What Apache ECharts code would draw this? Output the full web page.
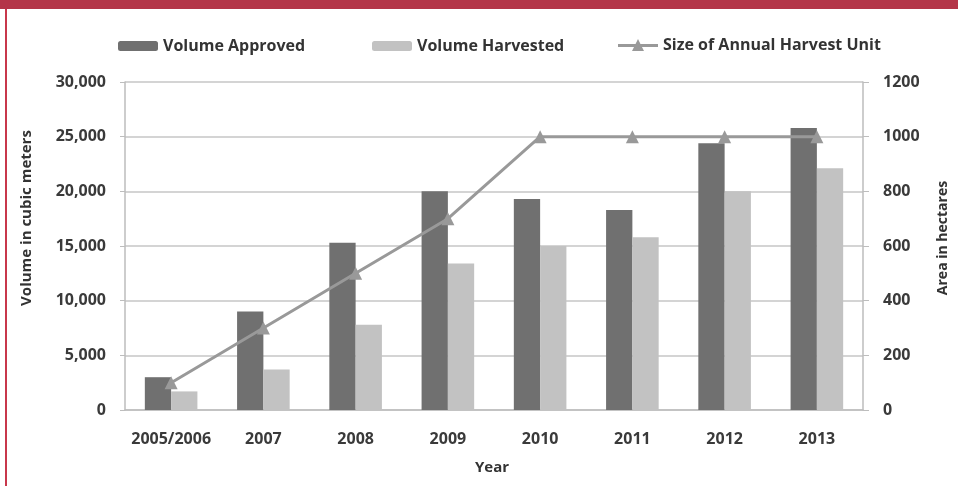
<!DOCTYPE html>
<html>
<head>
<meta charset="utf-8">
<script src="https://cdn.jsdelivr.net/npm/echarts@6/dist/echarts.min.js"></script>
<style>
html,body{margin:0;padding:0;background:#fff;}
#c{width:958px;height:486px;}
</style>
</head>
<body>
<div id="c"></div>
<script>
const categories = ['2005/2006','2007','2008','2009','2010','2011','2012','2013'];
const volumeApproved = [3000, 9000, 15300, 20000, 19300, 18300, 24400, 25800];
const volumeHarvested = [1700, 3700, 7800, 13400, 15000, 15800, 20000, 22100];
const harvestUnitSize = [100, 300, 500, 700, 1000, 1000, 1000, 1000];
const leftTicks = {min: 0, max: 30000, interval: 5000};
const rightTicks = {min: 0, max: 1200, interval: 200};

const FONT = '"Open Sans", "Liberation Sans", sans-serif';
const chart = echarts.init(document.getElementById('c'), null, {renderer: 'canvas'});
const axisCol = '#bdbdbd';
const labelStyle = {color: '#3a3a3a', fontFamily: FONT, fontSize: 16, fontWeight: 700};
const legendText = {color: '#333', fontFamily: FONT, fontSize: 16, fontWeight: 700};

chart.setOption({
  animation: false,
  backgroundColor: '#ffffff',
  textStyle: {fontFamily: FONT},
  grid: {left: 125, right: 95, top: 82, bottom: 76, containLabel: false},
  legend: [
    {data: ['Volume Approved'], left: 113, top: 33, itemWidth: 40, itemHeight: 10, textStyle: legendText},
    {data: ['Volume Harvested'], left: 367, top: 33, itemWidth: 40, itemHeight: 10, textStyle: legendText},
    {data: [{name: 'Size of Annual Harvest Unit', icon: 'path://M0,5L40,5L40,8L0,8Z M20,0L26,12L14,12Z'}],
     left: 613, top: 32, itemWidth: 40, itemHeight: 12, textStyle: legendText}
  ],
  xAxis: {
    type: 'category',
    data: categories,
    axisLine: {lineStyle: {color: axisCol, width: 1.5}},
    axisTick: {show: false},
    axisLabel: Object.assign({margin: 21, interval: 0}, labelStyle)
  },
  yAxis: [
    {
      type: 'value', min: leftTicks.min, max: leftTicks.max, interval: leftTicks.interval,
      axisLine: {show: true, lineStyle: {color: axisCol, width: 1.5}},
      axisTick: {show: true, length: 5, lineStyle: {color: axisCol}},
      splitLine: {show: true, lineStyle: {color: '#c6c6c6', width: 1.5}},
      axisLabel: Object.assign({margin: 19, formatter: v => v.toLocaleString('en-US')}, labelStyle)
    },
    {
      type: 'value', min: rightTicks.min, max: rightTicks.max, interval: rightTicks.interval,
      position: 'right',
      axisLine: {show: true, lineStyle: {color: axisCol, width: 1.5}},
      axisTick: {show: true, length: 6, lineStyle: {color: axisCol}},
      splitLine: {show: false},
      axisLabel: Object.assign({margin: 20, formatter: v => String(v)}, labelStyle)
    }
  ],
  series: [
    {name: 'Volume Approved', type: 'bar', data: volumeApproved, barGap: '0%', barCategoryGap: '43%',
     itemStyle: {color: '#707070'}, yAxisIndex: 0},
    {name: 'Volume Harvested', type: 'bar', data: volumeHarvested,
     itemStyle: {color: '#c2c2c2'}, yAxisIndex: 0},
    {name: 'Size of Annual Harvest Unit', type: 'line', data: harvestUnitSize, yAxisIndex: 1,
     symbol: 'triangle', symbolSize: 13,
     lineStyle: {color: '#999999', width: 3},
     itemStyle: {color: '#999999'}}
  ],
  graphic: [
    {type: 'rect', left: 0, top: 0, shape: {width: 958, height: 9}, style: {fill: '#b43548'}, z: 100},
    {type: 'rect', left: 5, top: 9, shape: {width: 2, height: 477}, style: {fill: '#c8374b'}, z: 100},
    {type: 'text', x: 27, y: 218, rotation: Math.PI / 2, style: {text: 'Volume in cubic meters', fill: '#333', font: '700 15px ' + FONT, align: 'center', verticalAlign: 'middle'}},
    {type: 'text', x: 943, y: 238, rotation: Math.PI / 2, style: {text: 'Area in hectares', fill: '#333', font: '700 14px ' + FONT, align: 'center', verticalAlign: 'middle'}},
    {type: 'text', x: 492, y: 468, style: {text: 'Year', fill: '#333', font: '700 15px ' + FONT, align: 'center', verticalAlign: 'middle'}}
  ]
});
</script>
</body>
</html>
